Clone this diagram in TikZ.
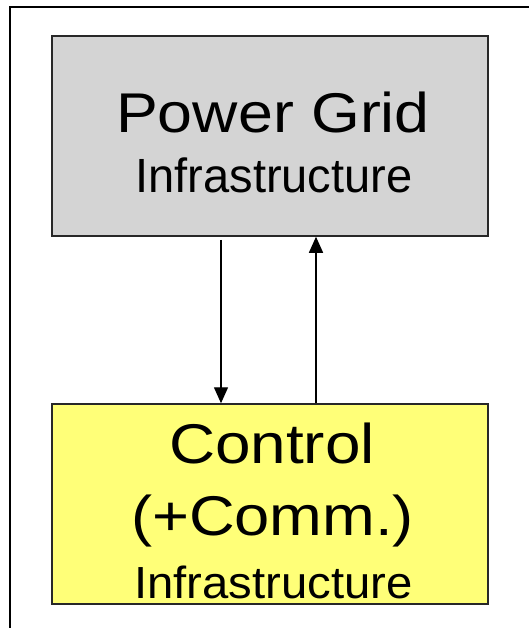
\documentclass[tikz,border=0pt]{standalone}
\usepackage{fontspec}
\setmainfont{Liberation Sans}
\usetikzlibrary{arrows.meta}
\definecolor{gridgray}{RGB}{212,212,212}
\definecolor{ctrlyellow}{RGB}{255,255,120}
\definecolor{edgegray}{RGB}{40,40,40}
\tikzset{
  box/.style={draw=edgegray, line width=1.5pt, minimum width=436pt, minimum height=200pt, inner sep=0pt},
  bigtxt/.style={anchor=base, inner sep=0pt, font=\fontsize{56}{56}\selectfont},
  smalltxt/.style={anchor=base, inner sep=0pt, font=\fontsize{48}{48}\selectfont},
  lowtxt/.style={anchor=base, inner sep=0pt, font=\fontsize{45}{45}\selectfont},
  arr/.style={line width=1.4pt, -{Triangle[length=16pt,width=14pt]}}
}
\begin{document}
\begin{tikzpicture}[x=1pt,y=-1pt]
\clip (0,0) rectangle (529,628);
\fill[white] (0,0) rectangle (529,628);
\draw[line width=2pt] (10,7) rectangle (600,700);
\node[box, fill=gridgray] (grid) at (270,136) {};
\node[box, fill=ctrlyellow] (ctrl) at (270,504) {};
\node[bigtxt] (gridA) at (273,132.5) {\scalebox{1.12}[1]{Power Grid}};
\node[smalltxt] (gridB) at (274,192.5) {\scalebox{0.98}[1]{Infrastructure}};
\node[bigtxt] (ctrlA) at (272,463) {\scalebox{1.14}[1]{Control}};
\node[bigtxt] (ctrlB) at (272.5,535) {\scalebox{1.13}[1]{(+Comm.)}};
\node[lowtxt] (ctrlC) at (273.5,598.5) {\scalebox{1.05}[1]{Infrastructure}};
\coordinate (down) at (221,0);
\coordinate (up) at (316,0);
\draw[arr] ([yshift=-3pt]grid.south -| down) -- (ctrl.north -| down);
\draw[arr] (ctrl.north -| up) -- (grid.south -| up);
\end{tikzpicture}
\end{document}
